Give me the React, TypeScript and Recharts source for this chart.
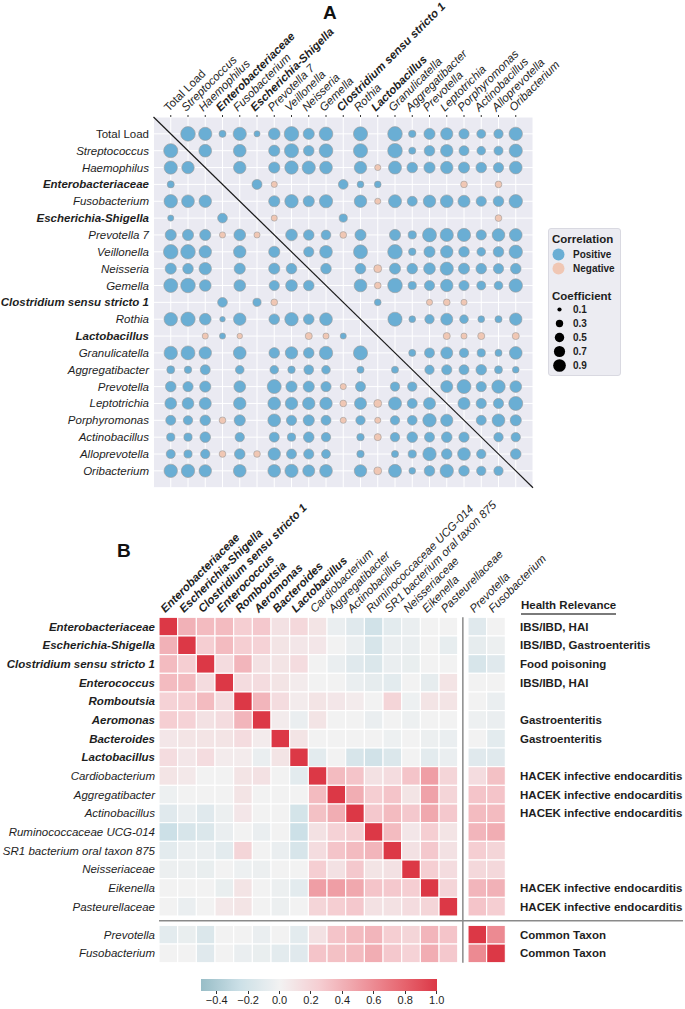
import React from "react";
import {
  ScatterChart,
  Scatter,
  XAxis,
  YAxis,
  CartesianGrid,
  ReferenceLine,
} from "recharts";

const FONT = '"Liberation Sans", Arial, Helvetica, sans-serif';
const INK = "#1e1e1e";

// ---------- panel A : correlation bubbles ----------
const TAXA_A = [
  "Total Load",
  "Streptococcus",
  "Haemophilus",
  "Enterobacteriaceae",
  "Fusobacterium",
  "Escherichia-Shigella",
  "Prevotella 7",
  "Veillonella",
  "Neisseria",
  "Gemella",
  "Clostridium sensu stricto 1",
  "Rothia",
  "Lactobacillus",
  "Granulicatella",
  "Aggregatibacter",
  "Prevotella",
  "Leptotrichia",
  "Porphyromonas",
  "Actinobacillus",
  "Alloprevotella",
  "Oribacterium",
];
const BOLD_A = [
  "Enterobacteriaceae",
  "Escherichia-Shigella",
  "Clostridium sensu stricto 1",
  "Lactobacillus",
];
// 0 = not shown (non significant / diagonal)
const CORR_A = [
  [0, 0.85, 0.7, 0.2, 0.7, 0.15, 0.55, 0.85, 0.5, 0.75, 0, 0.8, 0, 0.85, 0.22, 0.5, 0.6, 0.42, 0.32, 0.35, 0.72],
  [0.8, 0, 0.65, 0, 0.65, 0, 0.5, 0.8, 0.45, 0.75, 0, 0.8, 0, 0.85, 0.2, 0.45, 0.62, 0.4, 0.3, 0.33, 0.7],
  [0.7, 0.62, 0, 0, 0.62, 0, 0.5, 0.72, 0.7, 0.65, 0, 0.62, -0.15, 0.68, 0.45, 0.5, 0.62, 0.5, 0.45, 0.42, 0.65],
  [0.2, 0, 0, 0, 0, 0.4, -0.15, 0, 0, 0, 0.38, 0.18, 0.18, 0, 0, 0, 0, -0.18, 0, -0.18, 0],
  [0.72, 0.65, 0.62, 0, 0, 0, 0.5, 0.72, 0.5, 0.7, 0, 0.62, -0.15, 0.68, 0.4, 0.62, 0.65, 0.58, 0.42, 0.45, 0.72],
  [0.15, 0, 0, 0.38, 0, 0, -0.15, 0, 0, 0, 0.27, 0, 0, 0, 0, 0, 0, 0, 0, -0.18, 0],
  [0.5, 0.5, 0.5, -0.15, 0.55, -0.15, 0, 0.55, 0.45, 0.38, -0.18, 0.5, 0, 0.5, 0.27, 0.78, 0.7, 0.7, 0.42, 0.65, 0.65],
  [0.85, 0.85, 0.62, 0, 0.62, 0, 0.5, 0, 0.42, 0.65, 0, 0.78, 0, 0.85, 0.22, 0.5, 0.62, 0.45, 0.3, 0.45, 0.72],
  [0.5, 0.45, 0.62, 0, 0.5, 0, 0.5, 0.45, 0, 0.45, 0, 0.45, -0.25, 0.5, 0.45, 0.55, 0.7, 0.5, 0.45, 0.42, 0.45],
  [0.78, 0.85, 0.55, 0, 0.55, 0, 0.42, 0.55, 0.45, 0, 0, 0.65, -0.18, 0.85, 0.27, 0.42, 0.62, 0.42, 0.32, 0.3, 0.72],
  [0, 0, 0, 0.38, 0, 0.27, -0.18, 0, 0, 0, 0, 0, 0.18, 0, 0, -0.15, -0.18, -0.15, 0, 0, 0],
  [0.72, 0.82, 0.55, 0.12, 0.62, 0, 0.45, 0.72, 0.45, 0.65, 0, 0, 0, 0.8, 0.18, 0.35, 0.58, 0.3, 0.18, 0.2, 0.62],
  [0, 0, -0.15, 0.15, -0.12, 0, 0, 0, -0.2, -0.15, 0.15, 0, 0, 0, 0, 0, -0.2, -0.15, -0.2, 0, -0.2],
  [0.72, 0.78, 0.62, 0, 0.65, 0, 0.45, 0.62, 0.45, 0.72, 0, 0.8, 0, 0, 0.2, 0.4, 0.58, 0.35, 0.27, 0.2, 0.65],
  [0.25, 0.22, 0.4, 0, 0.3, 0, 0.3, 0.22, 0.38, 0.3, 0, 0.2, 0, 0.2, 0, 0.35, 0.42, 0.4, 0.45, 0.25, 0.18],
  [0.45, 0.42, 0.5, 0, 0.55, 0, 0.78, 0.5, 0.5, 0.42, -0.15, 0.4, 0, 0.35, 0.35, 0, 0.58, 0.78, 0.42, 0.72, 0.55],
  [0.55, 0.55, 0.58, 0, 0.62, 0, 0.65, 0.62, 0.62, 0.62, -0.18, 0.58, -0.25, 0.68, 0.4, 0.58, 0, 0.58, 0.42, 0.42, 0.78],
  [0.4, 0.35, 0.45, -0.18, 0.5, 0, 0.65, 0.42, 0.5, 0.4, -0.15, 0.35, -0.15, 0.35, 0.38, 0.72, 0.6, 0, 0.4, 0.65, 0.5],
  [0.27, 0.27, 0.45, 0, 0.35, 0, 0.4, 0.27, 0.45, 0.35, 0, 0.22, -0.2, 0.35, 0.45, 0.4, 0.45, 0.42, 0, 0.35, 0.35],
  [0.33, 0.27, 0.35, -0.18, 0.45, -0.18, 0.62, 0.4, 0.42, 0.32, 0, 0.22, 0, 0.2, 0.27, 0.72, 0.45, 0.65, 0.35, 0, 0.45],
  [0.72, 0.72, 0.62, 0, 0.65, 0, 0.65, 0.7, 0.58, 0.65, 0, 0.62, -0.25, 0.68, 0.18, 0.45, 0.72, 0.45, 0.35, 0.35, 0],
];
const COEF_LEGEND = [0.1, 0.3, 0.5, 0.7, 0.9];

// ---------- panel B : heatmap ----------
const TAXA_B = [
  "Enterobacteriaceae",
  "Escherichia-Shigella",
  "Clostridium sensu stricto 1",
  "Enterococcus",
  "Romboutsia",
  "Aeromonas",
  "Bacteroides",
  "Lactobacillus",
  "Cardiobacterium",
  "Aggregatibacter",
  "Actinobacillus",
  "Ruminococcaceae UCG-014",
  "SR1 bacterium oral taxon 875",
  "Neisseriaceae",
  "Eikenella",
  "Pasteurellaceae",
  "Prevotella",
  "Fusobacterium",
];
const BOLD_B = TAXA_B.slice(0, 8);
const RELEVANCE_B = [
  "IBS/IBD, HAI",
  "IBS/IBD, Gastroenteritis",
  "Food poisoning",
  "IBS/IBD, HAI",
  "",
  "Gastroenteritis",
  "Gastroenteritis",
  "",
  "HACEK infective endocarditis",
  "HACEK infective endocarditis",
  "HACEK infective endocarditis",
  "",
  "",
  "",
  "HACEK infective endocarditis",
  "HACEK infective endocarditis",
  "Common Taxon",
  "Common Taxon",
];
const CORR_B = [
  [1.0, 0.4, 0.35, 0.35, 0.25, 0.28, 0.12, 0.18, 0.1, -0.05, -0.12, -0.22, -0.1, -0.05, 0, 0, -0.12, 0],
  [0.4, 1.0, 0.25, 0.35, 0.25, 0.22, 0.1, 0.08, 0.08, 0, -0.05, -0.18, -0.05, -0.05, 0, -0.07, -0.08, -0.04],
  [0.35, 0.25, 1.0, 0.15, 0.38, 0.12, 0.1, 0.15, 0, -0.05, -0.12, -0.15, -0.05, -0.06, 0, 0, -0.18, -0.12],
  [0.35, 0.35, 0.15, 1.0, 0.15, 0.15, 0.1, 0.05, 0, 0, -0.05, -0.08, -0.1, 0, -0.08, 0.1, 0, 0],
  [0.22, 0.25, 0.35, 0.15, 1.0, 0.38, 0.15, 0.05, 0.1, 0.08, 0.05, 0, 0.2, -0.03, 0.1, 0.1, 0, -0.05],
  [0.25, 0.22, 0.12, 0.15, 0.38, 1.0, 0.05, -0.05, 0.1, 0, 0, -0.05, 0, -0.03, 0, 0, -0.03, -0.05],
  [0.08, 0.1, 0.1, 0.1, 0.15, 0.05, 1.0, 0.1, 0, 0, 0, 0, -0.03, 0, -0.04, -0.05, 0, -0.1],
  [0.15, 0.08, 0.15, 0.05, 0.05, -0.05, 0.1, 1.0, -0.1, 0, -0.18, -0.22, -0.15, 0, -0.1, -0.05, -0.12, -0.12],
  [0.1, 0.07, 0, 0, 0.1, 0.12, 0, -0.1, 1.0, 0.35, 0.3, 0.12, 0.15, 0.3, 0.5, 0.2, 0.15, 0.32],
  [-0.03, 0, 0, 0, 0.1, 0, 0, 0, 0.35, 1.0, 0.42, 0.25, 0.3, 0.1, 0.48, 0.2, 0.3, 0.3],
  [-0.12, -0.05, -0.12, -0.04, 0.08, 0, 0, -0.2, 0.32, 0.42, 1.0, 0.28, 0.35, 0.28, 0.45, 0.28, 0.35, 0.35],
  [-0.25, -0.18, -0.15, -0.05, 0, -0.05, 0, -0.25, 0.12, 0.22, 0.25, 1.0, 0.35, 0.08, 0.25, 0.1, 0.38, 0.42],
  [-0.1, -0.05, -0.05, -0.1, 0.2, 0, -0.05, -0.18, 0.15, 0.3, 0.35, 0.38, 1.0, 0.12, 0.28, 0.12, 0.25, 0.2],
  [-0.04, -0.04, -0.06, 0, -0.03, -0.04, 0, 0, 0.25, 0.12, 0.28, 0.1, 0.12, 1.0, 0.25, 0.15, 0.18, 0.18],
  [0, 0, 0, -0.06, 0.1, 0, -0.04, -0.1, 0.5, 0.5, 0.45, 0.3, 0.28, 0.25, 1.0, 0.2, 0.38, 0.4],
  [0, -0.05, 0, 0.07, 0.1, 0, -0.04, 0, 0.2, 0.25, 0.28, 0.12, 0.12, 0.15, 0.2, 1.0, 0.3, 0.25],
  [-0.1, -0.06, -0.15, 0, 0, -0.05, 0, -0.1, 0.12, 0.3, 0.35, 0.38, 0.25, 0.2, 0.38, 0.3, 1.0, 0.6],
  [0, 0, -0.12, 0, -0.05, -0.06, -0.1, -0.12, 0.3, 0.32, 0.35, 0.42, 0.28, 0.22, 0.42, 0.28, 0.6, 1.0],
];
const COLORBAR_TICKS = [-0.4, -0.2, 0.0, 0.2, 0.4, 0.6, 0.8, 1.0];
const COLORBAR_MIN = -0.5;
const COLORBAR_MAX = 1.0;

// ---------- styling helpers ----------
const POS_FILL = "#6aaed4";
const NEG_FILL = "#f0c7b4";
const R_SCALE = 7.9;
const LEGEND_R = 6.7;

const POS_STOPS: [number, number[]][] = [
  [0, [242, 242, 242]],
  [0.25, [245, 206, 210]],
  [0.5, [239, 158, 165]],
  [0.75, [232, 108, 118]],
  [1, [220, 56, 70]],
];
const NEG_STOPS: [number, number[]][] = [
  [0, [242, 242, 242]],
  [0.25, [204, 224, 231]],
  [0.5, [152, 189, 199]],
];

function heat(v: number) {
  const stops = v >= 0 ? POS_STOPS : NEG_STOPS;
  const a = Math.min(Math.abs(v), stops[stops.length - 1][0]);
  for (let i = 1; i < stops.length; i++) {
    if (a <= stops[i][0]) {
      const [t0, c0] = stops[i - 1];
      const [t1, c1] = stops[i];
      const f = (a - t0) / (t1 - t0);
      const c = c0.map((ch, k) => Math.round(ch + (c1[k] - ch) * f));
      return `rgb(${c[0]},${c[1]},${c[2]})`;
    }
  }
  const c = stops[stops.length - 1][1];
  return `rgb(${c[0]},${c[1]},${c[2]})`;
}

function nameStyle(name: string, bold: string[]) {
  if (name === "Total Load") return { fontStyle: "normal", fontWeight: 400 };
  if (bold.includes(name)) return { fontStyle: "italic", fontWeight: 700 };
  return { fontStyle: "italic", fontWeight: 400 };
}

// ---------- panel A pieces ----------
const A_W = 685;
const A_H = 500;
const A_LEFT = 153.5;
const A_TOP = 117;
const A_CELL_X = 17.25;
const A_CELL_Y = 16.85;
const A_SPAN = TAXA_A.length + 1; // one cell of padding split over both sides
const A_PLOT_W = A_CELL_X * A_SPAN;
const A_PLOT_H = A_CELL_Y * A_SPAN;
const TICKS_A = TAXA_A.map((_, i) => i);

const bubblesA = CORR_A.flatMap((row, r) =>
  row.map((v, c) => ({ x: c, y: r, v })).filter((p) => p.v !== 0)
);
const posA = bubblesA.filter((p) => p.v > 0);
const negA = bubblesA.filter((p) => p.v < 0);

function Bubble(props: any) {
  const { cx, cy, payload } = props;
  if (cx == null || cy == null) return null;
  const r = R_SCALE * Math.sqrt(Math.abs(payload.v));
  return (
    <circle
      cx={cx}
      cy={cy}
      r={r}
      fill={payload.v > 0 ? POS_FILL : NEG_FILL}
      stroke="#9a9a9a"
      strokeWidth={0.6}
    />
  );
}

function ColTickA(props: any) {
  const { x, y, payload } = props;
  const name = TAXA_A[Math.round(payload.value)];
  const tx = x - 2;
  const ty = y - 1;
  return (
    <text
      x={tx}
      y={ty}
      transform={`rotate(-45 ${tx} ${ty})`}
      textAnchor="start"
      fontSize={11.5}
      fontFamily={FONT}
      fill={INK}
      {...nameStyle(name, BOLD_A)}
    >
      {name}
    </text>
  );
}

function RowTickA(props: any) {
  const { x, y, payload } = props;
  const name = TAXA_A[Math.round(payload.value)];
  return (
    <text
      x={x}
      y={y}
      dy={4}
      textAnchor="end"
      fontSize={11.5}
      fontFamily={FONT}
      fill={INK}
      {...nameStyle(name, BOLD_A)}
    >
      {name}
    </text>
  );
}

function LegendA() {
  return (
    <div
      style={{
        position: "absolute",
        left: 547.5,
        top: 228,
        width: 73,
        height: 148,
        background: "#ececf2",
        border: "1px solid #d9d9e1",
        borderRadius: 3,
        boxSizing: "border-box",
      }}
    >
      <svg width={73} height={148} style={{ display: "block" }}>
        <g fontFamily={FONT} fill={INK} fontWeight={700}>
          <text x={3} y={14} fontSize={11.5}>
            Correlation
          </text>
          <circle cx={9.5} cy={25.5} r={6} fill={POS_FILL} />
          <text x={24} y={29} fontSize={10}>
            Positive
          </text>
          <circle cx={9.5} cy={39.5} r={6} fill={NEG_FILL} />
          <text x={24} y={43} fontSize={10}>
            Negative
          </text>
          <text x={3} y={70.5} fontSize={11.5}>
            Coefficient
          </text>
          {COEF_LEGEND.map((c, i) => (
            <g key={c}>
              <circle cx={10.5} cy={80.5 + i * 14} r={LEGEND_R * Math.sqrt(c)} fill="#000" />
              <text x={24} y={84 + i * 14} fontSize={10}>
                {c.toFixed(1)}
              </text>
            </g>
          ))}
        </g>
      </svg>
    </div>
  );
}

function PanelA() {
  return (
    <ScatterChart
      width={A_W}
      height={A_H}
      margin={{
        top: 0,
        left: 0,
        right: A_W - A_LEFT - A_PLOT_W,
        bottom: A_H - A_TOP - A_PLOT_H,
      }}
    >
      <CartesianGrid fill="#eaeaf2" stroke="#ffffff" strokeWidth={1} />
      <XAxis
        type="number"
        dataKey="x"
        orientation="top"
        domain={[-1, TAXA_A.length]}
        ticks={TICKS_A}
        interval={0}
        height={A_TOP}
        axisLine={false}
        tickLine={{ stroke: "#333", strokeWidth: 1 }}
        tickSize={2}
        tickMargin={2}
        tick={<ColTickA />}
      />
      <YAxis
        type="number"
        dataKey="y"
        reversed
        domain={[-1, TAXA_A.length]}
        ticks={TICKS_A}
        interval={0}
        width={A_LEFT}
        axisLine={false}
        tickLine={false}
        tickSize={0}
        tickMargin={4.5}
        tick={<RowTickA />}
      />
      <ReferenceLine
        segment={[
          { x: -1, y: -1 },
          { x: TAXA_A.length, y: TAXA_A.length },
        ]}
        stroke="#1a1a1a"
        strokeWidth={1.2}
        ifOverflow="visible"
      />
      <Scatter data={posA} shape={<Bubble />} isAnimationActive={false} />
      <Scatter data={negA} shape={<Bubble />} isAnimationActive={false} />
    </ScatterChart>
  );
}

// ---------- panel B pieces ----------
const B_TOP = 470;
const B_W = 685;
const B_H = 1009 - B_TOP;
const CELL = 18.67;
const N_MAIN = 16;
const GAP_X = 0.55;
const GAP_Y = 0.5;
const B_LEFT = 159;
const B_AXIS_H = 617.3 - B_TOP;
const X_SPAN = TAXA_B.length + GAP_X;
const Y_SPAN = TAXA_B.length + GAP_Y;
const posX = (i: number) => (i < N_MAIN ? i : i + GAP_X);
const posY = (i: number) => (i < N_MAIN ? i : i + GAP_Y);
const COL_TICKS_B = TAXA_B.map((_, i) => posX(i) + 0.5);
const ROW_TICKS_B = TAXA_B.map((_, i) => posY(i) + 0.5);
const B_RIGHT_W = B_W - B_LEFT - CELL * X_SPAN;
const SEP_END_X = (683 - B_LEFT) / CELL;

const cellsB = CORR_B.flatMap((row, r) =>
  row.map((v, c) => ({ x: posX(c) + 0.5, y: posY(r) + 0.5, v }))
);

function HeatCell(props: any) {
  const { cx, cy, payload } = props;
  if (cx == null || cy == null) return null;
  return (
    <rect
      x={cx - CELL / 2}
      y={cy - CELL / 2}
      width={CELL}
      height={CELL}
      fill={heat(payload.v)}
      stroke="#ffffff"
      strokeWidth={1.1}
    />
  );
}

function ColTickB(props: any) {
  const { x, y, index } = props;
  const name = TAXA_B[index];
  const tx = x - 3;
  const ty = y + 1;
  return (
    <text
      x={tx}
      y={ty}
      transform={`rotate(-45 ${tx} ${ty})`}
      textAnchor="start"
      fontSize={11.5}
      fontFamily={FONT}
      fill={INK}
      {...nameStyle(name, BOLD_B)}
    >
      {name}
    </text>
  );
}

function RowTickB(props: any) {
  const { x, y, index } = props;
  const name = TAXA_B[index];
  return (
    <text
      x={x}
      y={y}
      dy={4}
      textAnchor="end"
      fontSize={11.5}
      fontFamily={FONT}
      fill={INK}
      {...nameStyle(name, BOLD_B)}
    >
      {name}
    </text>
  );
}

function RelevanceTick(props: any) {
  const { x, y, index } = props;
  return (
    <text
      x={x}
      y={y}
      dy={4}
      textAnchor="start"
      fontSize={11.5}
      fontWeight={700}
      fontFamily={FONT}
      fill={INK}
    >
      {RELEVANCE_B[index]}
    </text>
  );
}

function PanelB() {
  return (
    <ScatterChart
      width={B_W}
      height={B_H}
      margin={{ top: 0, left: 0, right: 0, bottom: B_H - B_AXIS_H - CELL * Y_SPAN }}
    >
      <XAxis
        type="number"
        dataKey="x"
        orientation="top"
        domain={[0, X_SPAN]}
        ticks={COL_TICKS_B}
        interval={0}
        height={B_AXIS_H}
        axisLine={false}
        tickLine={false}
        tickSize={0}
        tickMargin={5}
        tick={<ColTickB />}
      />
      <YAxis
        yAxisId="left"
        type="number"
        dataKey="y"
        reversed
        domain={[0, Y_SPAN]}
        ticks={ROW_TICKS_B}
        interval={0}
        width={B_LEFT}
        axisLine={false}
        tickLine={false}
        tickSize={0}
        tickMargin={4}
        tick={<RowTickB />}
      />
      <YAxis
        yAxisId="right"
        orientation="right"
        type="number"
        dataKey="y"
        reversed
        domain={[0, Y_SPAN]}
        ticks={ROW_TICKS_B}
        interval={0}
        width={B_RIGHT_W}
        axisLine={false}
        tickLine={false}
        tickSize={0}
        tickMargin={14.7}
        tick={<RelevanceTick />}
      />
      <Scatter yAxisId="left" data={cellsB} shape={<HeatCell />} isAnimationActive={false} />
      <Scatter yAxisId="right" data={cellsB} shape={() => <g />} isAnimationActive={false} />
      <ReferenceLine
        yAxisId="left"
        x={N_MAIN + GAP_X / 2}
        stroke="#8a8a8a"
        strokeWidth={1.5}
      />
      <ReferenceLine
        yAxisId="left"
        segment={[
          { x: 0, y: N_MAIN + GAP_Y / 2 },
          { x: SEP_END_X, y: N_MAIN + GAP_Y / 2 },
        ]}
        stroke="#8a8a8a"
        strokeWidth={1.5}
        ifOverflow="visible"
      />
    </ScatterChart>
  );
}

function Colorbar() {
  const left = 201;
  const width = 235.7;
  const steps = 30;
  const stops = Array.from({ length: steps + 1 }, (_, i) => {
    const v = COLORBAR_MIN + ((COLORBAR_MAX - COLORBAR_MIN) * i) / steps;
    return `${heat(v)} ${((i / steps) * 100).toFixed(2)}%`;
  });
  const toX = (v: number) => ((v - COLORBAR_MIN) / (COLORBAR_MAX - COLORBAR_MIN)) * width;
  return (
    <div style={{ position: "absolute", left, top: 979, width, height: 30 }}>
      <div
        style={{
          width,
          height: 12,
          background: `linear-gradient(to right, ${stops.join(", ")})`,
        }}
      />
      {COLORBAR_TICKS.map((t) => (
        <React.Fragment key={t}>
          <div
            style={{
              position: "absolute",
              left: toX(t) - 0.5,
              top: 12,
              width: 1,
              height: 3,
              background: "#333",
            }}
          />
          <div
            style={{
              position: "absolute",
              left: toX(t) - 20,
              top: 15,
              width: 40,
              textAlign: "center",
              fontSize: 11,
              lineHeight: "13px",
              color: INK,
            }}
          >
            {t < 0 ? `\u2212${Math.abs(t).toFixed(1)}` : t.toFixed(1)}
          </div>
        </React.Fragment>
      ))}
    </div>
  );
}

export default function App() {
  return (
    <div
      style={{
        position: "absolute",
        left: 0,
        top: 0,
        width: 685,
        height: 1009,
        background: "#fff",
        fontFamily: FONT,
        overflow: "hidden",
      }}
    >
      <div style={{ position: "absolute", left: 0, top: 0 }}>
        <PanelA />
      </div>
      <LegendA />
      <div style={{ position: "absolute", left: 0, top: B_TOP }}>
        <PanelB />
      </div>
      <div
        style={{
          position: "absolute",
          left: 323,
          top: 2,
          fontSize: 19,
          fontWeight: 700,
          lineHeight: "21px",
          color: "#111",
        }}
      >
        A
      </div>
      <div
        style={{
          position: "absolute",
          left: 117,
          top: 540,
          fontSize: 19,
          fontWeight: 700,
          lineHeight: "21px",
          color: "#111",
        }}
      >
        B
      </div>
      <div
        style={{
          position: "absolute",
          left: 521,
          top: 599,
          fontSize: 11.5,
          fontWeight: 700,
          lineHeight: "13px",
          color: INK,
          borderBottom: "2px solid #7a7a7a",
          paddingBottom: 1,
          whiteSpace: "nowrap",
        }}
      >
        Health Relevance
      </div>
      <Colorbar />
    </div>
  );
}
